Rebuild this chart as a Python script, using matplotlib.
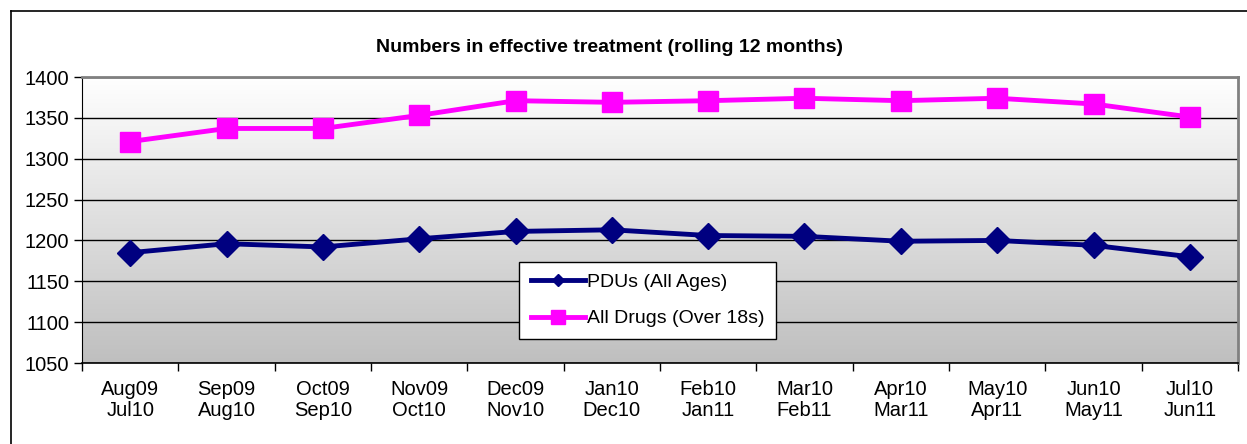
import matplotlib
matplotlib.use("Agg")
import matplotlib.pyplot as plt
from matplotlib.lines import Line2D
import numpy as np

# data
periods = ["Aug09\nJul10", "Sep09\nAug10", "Oct09\nSep10", "Nov09\nOct10",
           "Dec09\nNov10", "Jan10\nDec10", "Feb10\nJan11", "Mar10\nFeb11",
           "Apr10\nMar11", "May10\nApr11", "Jun10\nMay11", "Jul10\nJun11"]
pdus = [1185, 1196, 1192, 1202, 1211, 1213, 1206, 1205, 1199, 1200, 1194, 1180]
all_drugs = [1321, 1337, 1337, 1353, 1371, 1369, 1371, 1374, 1371, 1374, 1367, 1351]

W, H = 1247, 444
plt.rcParams['font.family'] = ['Liberation Sans', 'DejaVu Sans']

fig = plt.figure(figsize=(W / 100, H / 100), dpi=100)
ax = fig.add_axes([82 / W, 1 - 363 / H, (1238 - 82) / W, (363 - 77) / H])

# outer chart border (left and top only visible)
fig.add_artist(Line2D([11 / W, 11 / W], [0, 1 - 11 / H], color='black', lw=1.2))
fig.add_artist(Line2D([11 / W, 1], [1 - 11 / H, 1 - 11 / H], color='black', lw=1.2))

# gradient background white -> grey
grad = np.linspace(1, 0, 256).reshape(-1, 1)
ax.imshow(grad, extent=[0, 1, 0, 1], transform=ax.transAxes, aspect='auto',
          cmap=matplotlib.colors.LinearSegmentedColormap.from_list('g', ['#bfbfbf', '#ffffff']),
          vmin=0, vmax=1, zorder=0)

x = np.arange(len(periods))
ax.plot(x, pdus, color='#000080', lw=3.5, marker='D', markersize=13, zorder=3)
ax.plot(x, all_drugs, color='#ff00ff', lw=3.5, marker='s', markersize=15, zorder=3)

ax.set_xlim(-0.5, len(periods) - 0.5)
ax.set_ylim(1050, 1400)
ax.set_yticks(np.arange(1050, 1401, 50))
ax.yaxis.grid(True, color='black', lw=1)
ax.set_axisbelow(True)
for g in ax.get_ygridlines():
    g.set_zorder(1)

ax.set_xticks(np.arange(-0.5, len(periods), 1))
ax.set_xticklabels([])
ax.set_xticks(x, minor=True)
ax.set_xticklabels(periods, minor=True, fontsize=14.5, linespacing=1.15)
ax.tick_params(axis='x', which='minor', length=0, pad=12)
ax.tick_params(axis='x', which='major', length=6, width=1, direction='out')
ax.tick_params(axis='y', length=6, width=1, labelsize=14.5, pad=3)

ax.spines['left'].set_color('black')
ax.spines['bottom'].set_color('black')
ax.spines['bottom'].set_linewidth(1.2)
ax.spines['top'].set_color('#808080')
ax.spines['right'].set_color('#808080')
ax.spines['top'].set_linewidth(2)
ax.spines['right'].set_linewidth(2)

fig.text(610 / W, 1 - 47 / H, "Numbers in effective treatment (rolling 12 months)",
         ha='center', va='center', fontsize=14, fontweight='bold')

handles = [Line2D([], [], color='#000080', lw=3.5, marker='D', markersize=6),
           Line2D([], [], color='#ff00ff', lw=3.5, marker='s', markersize=10)]
leg = fig.legend(handles, ["PDUs (All Ages)", "All Drugs (Over 18s)"],
                 loc='upper left', bbox_to_anchor=(519 / W, 1 - 262 / H),
                 fontsize=14, frameon=True, fancybox=False, framealpha=1,
                 edgecolor='black', handlelength=2.8, handletextpad=0.1,
                 borderpad=0.6, labelspacing=0.95, borderaxespad=0)
leg.get_frame().set_linewidth(1)

fig.savefig("out.png", dpi=100)
